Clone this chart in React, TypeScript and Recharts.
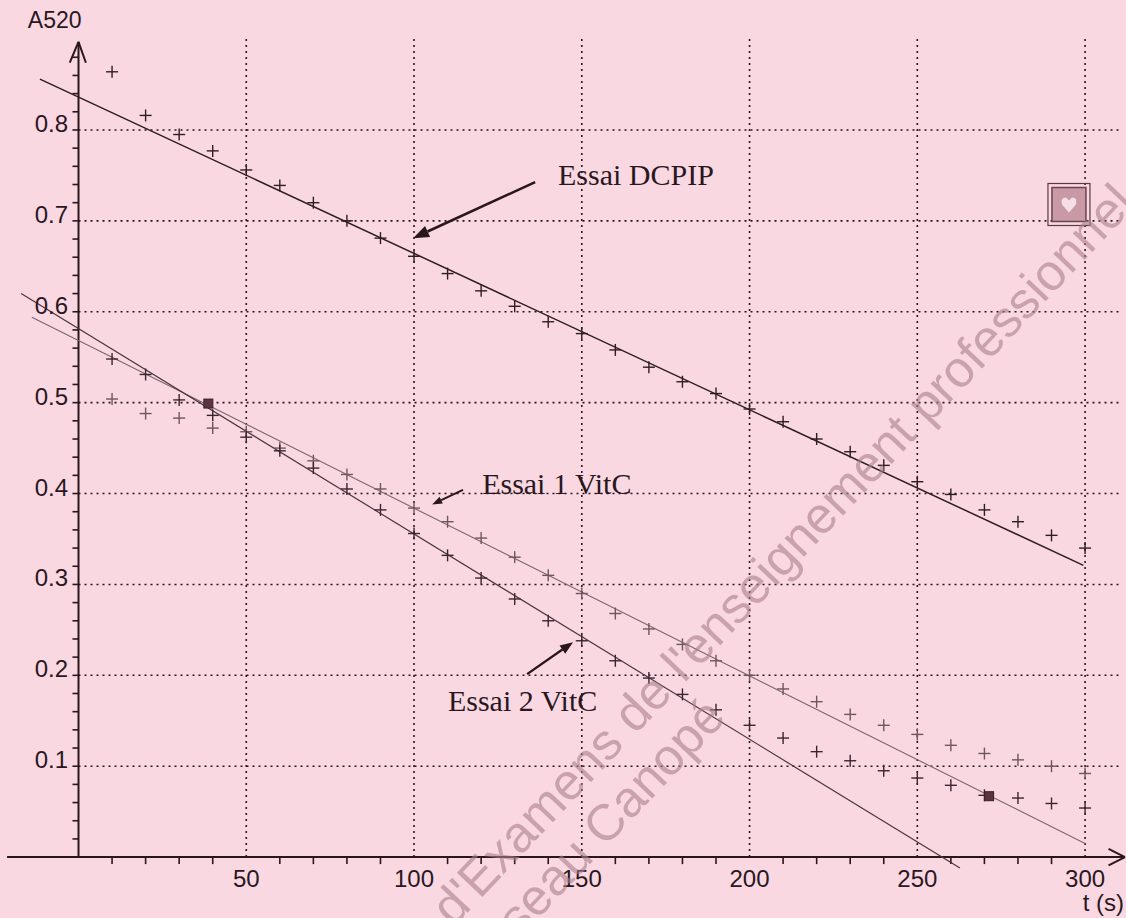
import {
  ComposedChart,
  XAxis,
  YAxis,
  Line,
  Scatter,
  ReferenceLine,
  ReferenceDot,
} from "recharts";

// time (s) of each reading
const TIMES = [
  10, 20, 30, 40, 50, 60, 70, 80, 90, 100, 110, 120, 130, 140, 150,
  160, 170, 180, 190, 200, 210, 220, 230, 240, 250, 260, 270, 280, 290, 300,
];
// A520 readings
const DCPIP = [
  0.864, 0.816, 0.795, 0.777, 0.756, 0.739, 0.72, 0.7, 0.681, 0.661,
  0.642, 0.623, 0.606, 0.589, 0.576, 0.558, 0.539, 0.523, 0.51, 0.493,
  0.479, 0.46, 0.446, 0.431, 0.413, 0.399, 0.382, 0.369, 0.354, 0.34,
];
const VITC1 = [
  0.504, 0.488, 0.483, 0.472, 0.468, 0.45, 0.436, 0.421, 0.405, 0.384,
  0.369, 0.351, 0.33, 0.31, 0.29, 0.268, 0.251, 0.234, 0.216, 0.2,
  0.185, 0.171, 0.157, 0.145, 0.135, 0.123, 0.114, 0.107, 0.1, 0.092,
];
const VITC2 = [
  0.548, 0.531, 0.503, 0.486, 0.462, 0.447, 0.428, 0.405, 0.382, 0.356,
  0.332, 0.307, 0.284, 0.26, 0.238, 0.216, 0.197, 0.179, 0.162, 0.145,
  0.131, 0.116, 0.106, 0.095, 0.087, 0.079, 0.068, 0.065, 0.059, 0.054,
];

// regression lines (end points)
const DCPIP_FIT_T = [-11.5, 299.5];
const DCPIP_FIT_V = [0.856, 0.321];
const VITC1_FIT_T = [-13.9, 300];
const VITC1_FIT_V = [0.594, 0.015];
const VITC2_FIT_T = [-17.1, 262.7];
const VITC2_FIT_V = [0.62, -0.012];

// cursor marks
const CURSOR_T = [38.7, 271.4];
const CURSOR_V = [0.499, 0.067];

const X_LABELS = [50, 100, 150, 200, 250, 300];
const X_MINOR = [
  10, 20, 30, 40, 60, 70, 80, 90, 110, 120, 130, 140, 160, 170, 180, 190,
  210, 220, 230, 240, 260, 270, 280, 290,
];
const Y_LABELS = [0.1, 0.2, 0.3, 0.4, 0.5, 0.6, 0.7, 0.8];
const Y_MINOR = [
  0.02, 0.04, 0.06, 0.08, 0.1, 0.12, 0.14, 0.16, 0.18, 0.2, 0.22, 0.24,
  0.26, 0.28, 0.3, 0.32, 0.34, 0.36, 0.38, 0.4, 0.42, 0.44, 0.46, 0.48,
  0.5, 0.52, 0.54, 0.56, 0.58, 0.6, 0.62, 0.64, 0.66, 0.68, 0.7, 0.72,
  0.74, 0.76, 0.78, 0.8, 0.82, 0.84, 0.86, 0.88,
];

const W = 1126;
const H = 918;
const BG = "#f9d8e2";
const INK = "#2a171e";
const SANS = "'Liberation Sans', Arial, sans-serif";
const SERIF = "'Liberation Serif', 'Times New Roman', serif";

const pts = (vals: number[]) => TIMES.map((t, i) => ({ t, v: vals[i] }));
const fit = (ts: number[], vs: number[]) => ts.map((t, i) => ({ t, v: vs[i] }));

const plus = (color: string) => (p: any) => (
  <g stroke={color} strokeWidth={1.4}>
    <line x1={p.cx - 6} y1={p.cy} x2={p.cx + 6} y2={p.cy} />
    <line x1={p.cx} y1={p.cy - 6} x2={p.cx} y2={p.cy + 6} />
  </g>
);

const arrow = (w: number, head: number) => (p: any) => {
  const { x1, y1, x2, y2 } = p;
  const a = Math.atan2(y2 - y1, x2 - x1);
  const bx = x2 - head * Math.cos(a);
  const by = y2 - head * Math.sin(a);
  const px = -Math.sin(a) * head * 0.38;
  const py = Math.cos(a) * head * 0.38;
  return (
    <g>
      <line x1={x1} y1={y1} x2={bx} y2={by} stroke={INK} strokeWidth={w} />
      <polygon points={`${x2},${y2} ${bx + px},${by + py} ${bx - px},${by - py}`} fill={INK} />
    </g>
  );
};

const label =
  (txt: string, size: number, font: string, anchor: string, dy = 0) =>
  (p: any) => (
    <text x={p.cx} y={p.cy + dy} fontSize={size} fontFamily={font} fill={INK} textAnchor={anchor}>
      {txt}
    </text>
  );

const watermark = (txt: string) => (p: any) => (
  <text
    x={p.cx}
    y={p.cy}
    fontSize={51}
    fontFamily={SANS}
    fill="#a97f8c"
    fillOpacity={0.6}
    transform={`rotate(-46.6 ${p.cx} ${p.cy})`}
  >
    {txt}
  </text>
);

const stamp = (p: any) => (
  <g>
    <rect x={p.cx - 21} y={p.cy - 21} width={42} height={42} fill="none" stroke="#5a3a44" strokeWidth={1.2} />
    <rect x={p.cx - 17} y={p.cy - 17} width={34} height={34} fill="#c99aa6" stroke="#6a4450" strokeWidth={1.5} />
    <path
      d={`M${p.cx} ${p.cy + 8} L${p.cx - 7} ${p.cy} Q${p.cx - 9} ${p.cy - 7} ${p.cx - 3} ${p.cy - 7} L${p.cx} ${p.cy - 4} L${p.cx + 3} ${p.cy - 7} Q${p.cx + 9} ${p.cy - 7} ${p.cx + 7} ${p.cy} Z`}
      fill="#f3dfe5"
    />
  </g>
);

const cursor = (p: any) => (
  <rect x={p.cx - 4.5} y={p.cy - 4.5} width={9} height={9} fill="#5b3442" stroke="#3a2029" strokeWidth={1} />
);

const grid = { stroke: INK, strokeWidth: 1.6, strokeDasharray: "2 4", ifOverflow: "visible" as const };
const axis = { stroke: INK, strokeWidth: 2, ifOverflow: "visible" as const };

export default function App() {
  return (
    <div style={{ position: "absolute", left: 0, top: 0, width: W, height: H, background: BG }}>
      <ComposedChart width={W} height={H} margin={{ top: 0, right: 0, bottom: 0, left: 0 }}>
        <XAxis type="number" dataKey="t" domain={[-23.4, 312.2]} allowDataOverflow hide />
        <YAxis type="number" domain={[-0.067, 0.943]} allowDataOverflow hide />

        {X_LABELS.map((t) => (
          <ReferenceLine key={`gx${t}`} segment={[{ x: t, y: 0 }, { x: t, y: 0.901 }]} {...grid} />
        ))}
        {Y_LABELS.map((v) => (
          <ReferenceLine key={`gy${v}`} segment={[{ x: 0, y: v }, { x: 311, y: v }]} {...grid} />
        ))}

        {/* axes */}
        <ReferenceLine segment={[{ x: -21.3, y: 0 }, { x: 311.9, y: 0 }]} {...axis} />
        <ReferenceLine segment={[{ x: 307, y: 0.009 }, { x: 311.9, y: 0 }]} {...axis} />
        <ReferenceLine segment={[{ x: 307, y: -0.009 }, { x: 311.9, y: 0 }]} {...axis} />
        <ReferenceLine segment={[{ x: 0, y: 0 }, { x: 0, y: 0.897 }]} {...axis} />
        <ReferenceLine segment={[{ x: -2.6, y: 0.874 }, { x: 0, y: 0.897 }]} {...axis} />
        <ReferenceLine segment={[{ x: 2.2, y: 0.874 }, { x: 0, y: 0.897 }]} {...axis} />

        {X_MINOR.map((t) => (
          <ReferenceLine key={`tx${t}`} segment={[{ x: t, y: 0 }, { x: t, y: -0.0077 }]} {...axis} strokeWidth={1.6} />
        ))}
        {Y_MINOR.map((v) => (
          <ReferenceLine key={`ty${v}`} segment={[{ x: -1.8, y: v }, { x: 0, y: v }]} {...axis} strokeWidth={1.6} />
        ))}
        {X_LABELS.map((t) => (
          <ReferenceDot key={`lx${t}`} x={t} y={0} r={0} ifOverflow="visible" shape={label(String(t), 24, SANS, "middle", 30)} />
        ))}
        {Y_LABELS.map((v) => (
          <ReferenceDot key={`ly${v}`} x={-3.1} y={v} r={0} ifOverflow="visible" shape={label(String(v), 24, SANS, "end", 2)} />
        ))}
        <ReferenceDot x={-15.1} y={0.912} r={0} ifOverflow="visible" shape={label("A520", 23, SANS, "start")} />
        <ReferenceDot x={311.6} y={-0.0594} r={0} ifOverflow="visible" shape={label("t (s)", 24, SANS, "end")} />

        <Line data={fit(DCPIP_FIT_T, DCPIP_FIT_V)} dataKey="v" stroke="#2f1d24" strokeWidth={1.5} dot={false} activeDot={false} isAnimationActive={false} />
        <Line data={fit(VITC1_FIT_T, VITC1_FIT_V)} dataKey="v" stroke="#7d6670" strokeWidth={1.1} dot={false} activeDot={false} isAnimationActive={false} />
        <Line data={fit(VITC2_FIT_T, VITC2_FIT_V)} dataKey="v" stroke="#4a3540" strokeWidth={1.2} dot={false} activeDot={false} isAnimationActive={false} />

        <Scatter data={pts(DCPIP)} dataKey="v" shape={plus("#2f1d24")} isAnimationActive={false} />
        <Scatter data={pts(VITC1)} dataKey="v" shape={plus("#6e5660")} isAnimationActive={false} />
        <Scatter data={pts(VITC2)} dataKey="v" shape={plus("#3a2530")} isAnimationActive={false} />

        {CURSOR_T.map((t, i) => (
          <ReferenceDot key={`c${t}`} x={t} y={CURSOR_V[i]} r={0} ifOverflow="visible" shape={cursor} />
        ))}
        <ReferenceDot x={295.2} y={0.718} r={0} ifOverflow="visible" shape={stamp} />

        {/* annotations */}
        <ReferenceLine segment={[{ x: 136.1, y: 0.7426 }, { x: 99.7, y: 0.681 }]} ifOverflow="visible" shape={arrow(2.6, 16)} />
        <ReferenceLine segment={[{ x: 114.6, y: 0.404 }, { x: 105.4, y: 0.388 }]} ifOverflow="visible" shape={arrow(2, 10)} />
        <ReferenceLine segment={[{ x: 133.7, y: 0.2013 }, { x: 147.4, y: 0.2365 }]} ifOverflow="visible" shape={arrow(2.4, 13)} />
        <ReferenceDot x={142.9} y={0.739} r={0} ifOverflow="visible" shape={label("Essai DCPIP", 30, SERIF, "start")} />
        <ReferenceDot x={120.3} y={0.4} r={0} ifOverflow="visible" shape={label("Essai 1 VitC", 30, SERIF, "start")} />
        <ReferenceDot x={110.1} y={0.161} r={0} ifOverflow="visible" shape={label("Essai 2 VitC", 30, SERIF, "start")} />

        {/* watermark */}
        <ReferenceDot
          x={111.7}
          y={-0.0777}
          r={0}
          ifOverflow="visible"
          shape={watermark("d'Examens de l'enseignement professionnel")}
        />
        <ReferenceDot x={118.0} y={-0.1422} r={0} ifOverflow="visible" shape={watermark("Réseau Canopé")} />
      </ComposedChart>
    </div>
  );
}
